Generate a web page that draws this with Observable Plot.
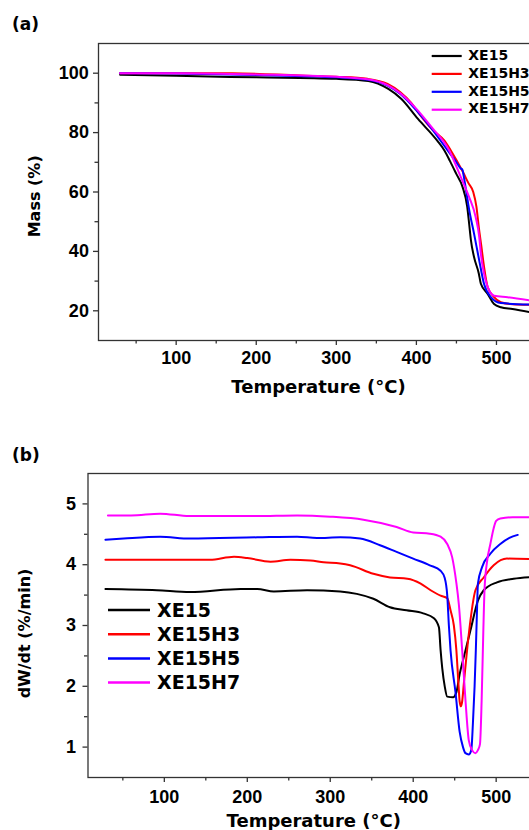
<!DOCTYPE html>
<html><head><meta charset="utf-8">
<script src="https://cdn.jsdelivr.net/npm/d3@7"></script>
<script src="https://cdn.jsdelivr.net/npm/@observablehq/plot@0.6"></script>
<style>
html,body{margin:0;padding:0;background:#fff;overflow:hidden;}
#wrap{position:relative;width:529px;height:830px;overflow:hidden;background:#fff;}
#wrap svg{max-width:none !important;position:absolute;left:0;}
</style></head><body><div id="wrap"></div>
<script>
// ---------- data ----------
const series = ["XE15", "XE15H3", "XE15H5", "XE15H7"];
const colors = ["#000000", "#ff0000", "#0000ff", "#ff00ff"];

// Panel (a): TGA, [temperature °C, mass %]
const massXE15 = [[30,99.5],[100,99.1],[200,98.6],[300,98.1],[340,97.4],[365,94.7],[381,91.4],[402,84.6],[426,77.3],[435,74],[442,70.4],[450,66],[457.5,61.8],[463.5,55],[466,49],[468,44],[472,38.1],[478,32.5],[480.5,29.1],[489,25.7],[497,22.3],[505.5,21.2],[520,20.6],[542,19.5]];
const massXE15H3 = [[30,100],[100,100],[170,100],[255,99.2],[300,98.8],[339,98.1],[364,96.4],[380,93.6],[393,90.2],[405,85.8],[420,81],[435,77.3],[443,74],[458,66.8],[465,63],[471,60],[475,55],[478,48],[481,42],[484.5,34.8],[489,28],[497,24.6],[505.5,22.9],[520,22.2],[542,22]];
const massXE15H5 = [[30,100],[100,99.9],[200,99.4],[300,98.6],[339,97.8],[364,95.8],[380,93],[400,87.5],[420,81],[439,74],[450,70],[455,68],[457.5,67.5],[459,65.5],[462,60.6],[466,53.9],[472,46],[478.5,36.9],[484.5,29],[493,24.6],[505.5,22.6],[542,22.1]];
const massXE15H7 = [[30,100],[100,100],[200,99.6],[300,98.8],[339,98],[364,96],[380,93.2],[400,88],[420,81.5],[441,74],[455.5,65],[466,58.2],[474,51.6],[478.5,44.8],[480.5,39.2],[484.5,32.5],[491,26.8],[497,25.1],[514,24.6],[542,23.5]];

// Panel (b): DTG, [temperature °C, dW/dt %/min]
const dtgXE15 = [[29,3.60],[91,3.58],[131,3.55],[192,3.60],[212,3.60],[232,3.56],[272,3.58],[312,3.56],[332,3.52],[352,3.44],[372,3.30],[392,3.25],[412,3.20],[425,3.12],[431,2.97],[433,2.6],[435,2.3],[438,2.0],[441,1.83],[448,1.82],[452,1.9],[456,2.2],[461,2.48],[469,2.92],[478,3.41],[485,3.58],[501,3.71],[521,3.77],[545,3.80]];
const dtgXE15H3 = [[29,4.08],[91,4.08],[155,4.08],[184,4.13],[200,4.11],[228,4.05],[252,4.08],[276,4.07],[292,4.04],[312,4.02],[324,3.99],[352,3.85],[372,3.79],[393,3.77],[409,3.69],[421,3.58],[433,3.49],[441,3.45],[445,3.25],[449,3.0],[452,2.6],[454.5,2.05],[456,1.75],[457.5,1.67],[459,1.75],[461,2.04],[467,2.86],[475,3.58],[485,3.79],[497,3.99],[513,4.10],[545,4.09]];
const dtgXE15H5 = [[29,4.41],[51,4.43],[95,4.46],[131,4.43],[212,4.45],[260,4.46],[284,4.44],[312,4.45],[336,4.43],[360,4.32],[380,4.21],[400,4.10],[420,3.99],[433,3.9],[438,3.78],[441,3.5],[443,3.0],[445,2.59],[451,1.9],[456,1.25],[460,1.0],[463,0.9],[467,0.88],[470,0.95],[472,1.4],[474,2.0],[475.5,2.6],[477,3.3],[478,3.69],[483,3.96],[493,4.18],[505,4.34],[516,4.44],[526,4.49]];
const dtgXE15H7 = [[32,4.81],[60,4.81],[95,4.84],[130,4.80],[210,4.80],[260,4.81],[300,4.79],[340,4.74],[380,4.62],[400,4.53],[420,4.51],[433,4.46],[441,4.34],[447,4.12],[452,3.7],[455,3.35],[459,2.6],[463,1.77],[467,1.11],[471,0.95],[475,0.9],[478,0.95],[480.5,1.05],[482.5,1.77],[484.5,2.9],[486,3.6],[489,4.05],[493,4.34],[497,4.6],[500,4.72],[505,4.76],[520,4.78],[545,4.78]];

// ticks
const tempTicks = [100, 200, 300, 400, 500];
const tempMinorTicks = [50, 150, 250, 350, 450];
const massTicks = [20, 40, 60, 80, 100];
const massMinorTicks = [30, 50, 70, 90];
const dtgTicks = [1, 2, 3, 4, 5];
const dtgMinorTicks = [1.5, 2.5, 3.5, 4.5];

// labels
const panelLabels = ["(a)", "(b)"];
const xTitle = "Temperature (°C)";
const yTitleA = "Mass (%)";
const yTitleB = "dW/dt (%/min)";

// ---------- build ----------
const rows = (list, arrays) => list.flatMap((s, i) => arrays[i].map(([t, v]) => ({s, t, v})));
const massData = rows(series, [massXE15, massXE15H3, massXE15H5, massXE15H7]);
const dtgData = rows(series, [dtgXE15, dtgXE15H3, dtgXE15H5, dtgXE15H7]);

const axisCol = "#333";
const intFmt = d => String(d);
const tickFont = {fontFamily: "'Liberation Sans', Arial, sans-serif", fontSize: 18, fontWeight: "bold", fill: "#000", tickFormat: intFmt};
const titleFont = {fontFamily: "'DejaVu Sans', sans-serif", fontWeight: "bold", fill: "#000", text: d => d};
const baseStyle = {background: "transparent", color: "#000", overflow: "visible"};

const plotA = Plot.plot({
  width: 600, height: 400,
  marginTop: 43, marginBottom: 60, marginLeft: 98, marginRight: 68,
  x: {domain: [3, 545]},
  y: {domain: [10, 110]},
  color: {domain: series, range: colors},
  style: baseStyle,
  marks: [
    Plot.axisX(tempTicks, {tickSize: 5, tickPadding: 5.7, stroke: axisCol, strokeWidth: 1.3, label: null, ...tickFont}),
    Plot.axisX(tempMinorTicks, {tickSize: 3.5, tickFormat: () => "", stroke: axisCol, strokeWidth: 1.3, label: null}),
    Plot.axisY(massTicks, {tickSize: 5, tickPadding: 4.6, stroke: axisCol, strokeWidth: 1.3, label: null, ...tickFont}),
    Plot.axisY(massMinorTicks, {tickSize: 3.5, tickFormat: () => "", stroke: axisCol, strokeWidth: 1.3, label: null}),
    Plot.line(massData, {x: "t", y: "v", z: "s", stroke: "s", strokeWidth: 2, curve: "monotone-x"}),
    Plot.frame({stroke: axisCol, strokeWidth: 1.3}),
    Plot.text([xTitle], {frameAnchor: "bottom", lineAnchor: "middle", textAnchor: "middle", dx: 3, dy: 46.7, fontSize: 18, ...titleFont}),
    Plot.text([yTitleA], {frameAnchor: "left", lineAnchor: "middle", textAnchor: "middle", rotate: -90, dx: -63.4, dy: 4.3, fontSize: 16, ...titleFont})
  ]
});

const plotB = Plot.plot({
  width: 600, height: 430,
  marginTop: 73, marginBottom: 53, marginLeft: 87.5, marginRight: 67,
  x: {domain: [8, 545]},
  y: {domain: [0.5, 5.5]},
  color: {domain: series, range: colors},
  style: baseStyle,
  marks: [
    Plot.axisX(tempTicks, {tickSize: 5, tickPadding: 7.3, stroke: axisCol, strokeWidth: 1.3, label: null, ...tickFont}),
    Plot.axisX(tempMinorTicks, {tickSize: 3.5, tickFormat: () => "", stroke: axisCol, strokeWidth: 1.3, label: null}),
    Plot.axisY(dtgTicks, {tickSize: 5, tickPadding: 7, stroke: axisCol, strokeWidth: 1.3, label: null, ...tickFont}),
    Plot.axisY(dtgMinorTicks, {tickSize: 3.5, tickFormat: () => "", stroke: axisCol, strokeWidth: 1.3, label: null}),
    Plot.line(dtgData, {x: "t", y: "v", z: "s", stroke: "s", strokeWidth: 2, curve: "monotone-x"}),
    Plot.frame({stroke: axisCol, strokeWidth: 1.3}),
    Plot.text([xTitle], {frameAnchor: "bottom", lineAnchor: "middle", textAnchor: "middle", dx: 3, dy: 43.7, fontSize: 18, ...titleFont}),
    Plot.text([yTitleB], {frameAnchor: "left", lineAnchor: "middle", textAnchor: "middle", rotate: -90, dx: -63.5, dy: 8, fontSize: 16, ...titleFont})
  ]
});

const wrap = document.getElementById("wrap");
plotA.style.top = "0px";
plotB.style.top = "400px";
wrap.appendChild(plotA);
wrap.appendChild(plotB);

// ---------- overlay: panel labels and legends ----------
const ov = d3.select(wrap).append("svg")
  .attr("width", 529).attr("height", 830)
  .style("top", "0px").style("pointer-events", "none")
  .style("font-family", "'DejaVu Sans', sans-serif").style("font-weight", "bold");

ov.selectAll("text.pl").data(panelLabels).join("text")
  .attr("x", 12).attr("y", (d, i) => i === 0 ? 29.5 : 460.5)
  .attr("font-size", 17).attr("fill", "#000").text(d => d);

function legend(g, opts) {
  const items = g.selectAll("g").data(series).join("g")
    .attr("transform", (d, i) => `translate(0,${i * opts.step})`);
  items.append("line")
    .attr("x1", opts.x1).attr("x2", opts.x2)
    .attr("y1", opts.lineY).attr("y2", opts.lineY)
    .attr("stroke", (d, i) => colors[i]).attr("stroke-width", opts.sw);
  items.append("text")
    .attr("x", opts.tx).attr("y", opts.baseY)
    .attr("font-size", opts.fs).attr("fill", "#000").text(d => d);
}
legend(ov.append("g"), {x1: 431.7, x2: 461.7, lineY: 56, tx: 468.3, baseY: 59.8, step: 17.9, fs: 14, sw: 2.2});
legend(ov.append("g"), {x1: 108, x2: 150, lineY: 610, tx: 157, baseY: 616.8, step: 24.2, fs: 19, sw: 2.5});
</script>
</body></html>
